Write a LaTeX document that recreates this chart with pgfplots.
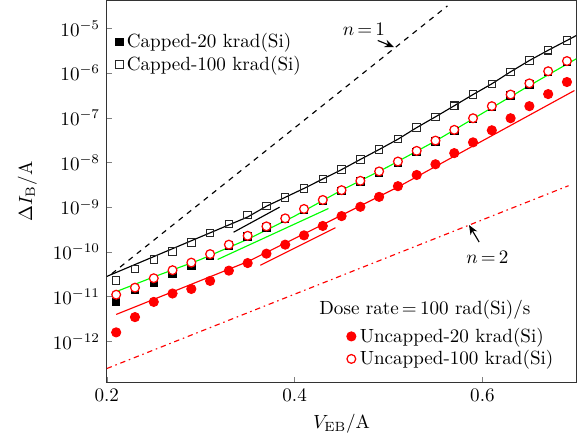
\documentclass[border=0pt]{standalone}
\usepackage{pgfplots}
\pgfplotsset{compat=1.18}
\usetikzlibrary{arrows.meta}

\pgfplotsset{
  capTwenty/.style={only marks, mark=square*, mark size=1.95pt, black, mark options={line width=0.5pt}},
  capHundred/.style={only marks, mark=square, mark size=1.95pt, black!85, mark options={line width=0.55pt}},
  uncTwenty/.style={only marks, mark=*, mark size=2.4pt, red, mark options={line width=0.5pt}},
  uncHundred/.style={only marks, mark=*, mark size=2.3pt, red, mark options={fill=white, line width=0.65pt}},
  smallleg/.style={
    legend cell align=left, draw=none, fill=none, inner sep=0pt,
    font=\normalsize, row sep=-1.2pt,
  },
  legend image code/.code={\draw[mark repeat=2,mark phase=2,#1] plot coordinates {(0cm,0cm) (0.12cm,0cm) (0.30cm,0cm)};},
}

\begin{document}
\begin{tikzpicture}
\begin{axis}[
  name=main,
  scale only axis, width=246pt, height=200pt,
  xmin=0.2, xmax=0.7,
  ymode=log, ymin=1.2e-13, ymax=4.17e-5,
  xtick={0.2,0.4,0.6},
  ytick={1e-12,1e-11,1e-10,1e-9,1e-8,1e-7,1e-6,1e-5},
  yminorticks=false, tick pos=left, tick align=inside,
  xlabel={$V_{\mathrm{EB}}/\mathrm{A}$},
  ylabel={$\Delta I_{\mathrm{B}}/\mathrm{A}$},
  ylabel style={yshift=1.5pt},
  axis line style={line width=0.7pt, black!80},
  major tick length=2.8pt,
  legend style={smallleg, at={(0.018,0.925)}, anchor=north west},
]
% fitted curves
\addplot[black, line width=0.6pt, forget plot] coordinates {
 (0.2,2.82e-11) (0.35,6.03e-10) (0.37,1.05e-9) (0.39,1.66e-9) (0.41,2.63e-9)
 (0.43,4.27e-9) (0.45,6.92e-9) (0.47,1.17e-8) (0.49,1.95e-8) (0.51,3.31e-8)
 (0.53,6.03e-8) (0.55,1.05e-7) (0.57,1.86e-7) (0.59,3.31e-7) (0.61,5.75e-7)
 (0.63,1.07e-6) (0.65,1.91e-6) (0.67,3.24e-6) (0.69,5.37e-6) (0.70,6.92e-6)};
\addplot[black, line width=0.6pt, forget plot] coordinates {(0.335,2.75e-10) (0.384,1.00e-9)};
\addplot[green, line width=0.6pt, forget plot] coordinates {
 (0.21,1.29e-11) (0.25,2.75e-11) (0.30,6.76e-11) (0.35,1.91e-10) (0.40,6.31e-10)
 (0.45,2.40e-9) (0.50,8.13e-9) (0.55,3.02e-8) (0.60,1.26e-7) (0.65,5.25e-7) (0.70,2.09e-6)};
\addplot[green, line width=0.6pt, forget plot] coordinates {(0.318,6.76e-11) (0.436,9.33e-10)};
\addplot[red, line width=0.6pt, forget plot] coordinates {
 (0.21,3.98e-12) (0.35,6.03e-11) (0.43,4.07e-10) (0.51,2.82e-9) (0.698,4.07e-7)};
\addplot[red, line width=0.6pt, forget plot] coordinates {(0.3635,5.01e-11) (0.4435,3.47e-10)};
% ideality reference lines
\addplot[black, line width=0.6pt, dash pattern=on 2.8pt off 2.8pt, forget plot] coordinates {(0.2053,3.24e-11) (0.5627,3.18e-5)};
\addplot[red, line width=0.6pt, dash pattern=on 2.8pt off 2pt on 0.8pt off 2pt, forget plot] coordinates {(0.2,2.45e-13) (0.6917,3.02e-9)};

% measured data
\addplot[capTwenty] coordinates {
 (0.21,7.59e-12) (0.23,1.45e-11) (0.25,2.04e-11) (0.27,3.24e-11) (0.29,5.01e-11)
 (0.31,8.13e-11) (0.33,1.38e-10) (0.35,2.19e-10) (0.37,3.55e-10) (0.39,5.37e-10)
 (0.41,8.71e-10) (0.43,1.38e-9) (0.45,2.29e-9) (0.47,3.72e-9) (0.49,6.03e-9)
 (0.51,1.00e-8) (0.53,1.74e-8) (0.55,2.95e-8) (0.57,5.13e-8) (0.59,9.33e-8)
 (0.61,1.74e-7) (0.63,3.16e-7) (0.65,5.62e-7) (0.67,1.05e-6) (0.69,1.78e-6)};
\addlegendentry{Capped-20 krad(Si)}
\addplot[capHundred] coordinates {
 (0.21,2.29e-11) (0.23,4.17e-11) (0.25,6.76e-11) (0.27,1.02e-10) (0.29,1.62e-10)
 (0.31,2.63e-10) (0.33,4.17e-10) (0.35,6.61e-10) (0.37,1.05e-9) (0.39,1.66e-9)
 (0.41,2.63e-9) (0.43,4.27e-9) (0.45,6.92e-9) (0.47,1.17e-8) (0.49,1.95e-8)
 (0.51,3.31e-8) (0.53,6.03e-8) (0.55,1.05e-7) (0.57,1.86e-7) (0.59,3.31e-7)
 (0.61,5.75e-7) (0.63,1.07e-6) (0.65,1.91e-6) (0.67,3.24e-6) (0.69,5.37e-6)};
\addlegendentry{Capped-100 krad(Si)}
\addplot[uncTwenty, forget plot] coordinates {
 (0.21,1.58e-12) (0.23,3.47e-12) (0.25,7.59e-12) (0.27,1.17e-11) (0.29,1.48e-11)
 (0.31,2.24e-11) (0.33,3.80e-11) (0.35,5.62e-11) (0.37,9.12e-11) (0.39,1.45e-10)
 (0.41,2.34e-10) (0.43,3.80e-10) (0.45,6.31e-10) (0.47,1.02e-9) (0.49,1.70e-9)
 (0.51,2.95e-9) (0.53,5.25e-9) (0.55,9.12e-9) (0.57,1.62e-8) (0.59,2.82e-8)
 (0.61,5.25e-8) (0.63,9.77e-8) (0.65,1.82e-7) (0.67,3.39e-7) (0.69,6.31e-7)};
\addplot[uncHundred, forget plot] coordinates {
 (0.21,1.10e-11) (0.23,1.58e-11) (0.25,2.57e-11) (0.27,3.89e-11) (0.29,5.75e-11)
 (0.31,8.91e-11) (0.33,1.45e-10) (0.35,2.29e-10) (0.37,3.72e-10) (0.39,5.62e-10)
 (0.41,9.12e-10) (0.43,1.45e-9) (0.45,2.40e-9) (0.47,3.89e-9) (0.49,6.31e-9)
 (0.51,1.05e-8) (0.53,1.82e-8) (0.55,3.09e-8) (0.57,5.37e-8) (0.59,9.77e-8)
 (0.61,1.82e-7) (0.63,3.31e-7) (0.65,5.89e-7) (0.67,1.10e-6) (0.69,1.86e-6)};

% annotations
\node at (axis cs:0.4738,9.55e-6) {$n\,{=}\,1$};
\draw[-{Stealth[length=5pt,width=4pt]}, line width=0.6pt] (axis cs:0.4885,5.37e-6) -- (axis cs:0.506,3.80e-6);
\node at (axis cs:0.6053,7.41e-11) {$n\,{=}\,2$};
\draw[-{Stealth[length=5pt,width=4pt]}, line width=0.6pt] (axis cs:0.5965,1.66e-10) -- (axis cs:0.5857,3.98e-10);
\node[anchor=west, inner sep=0pt] at (rel axis cs:0.452,0.19) {Dose rate\,$=$\,100 rad(Si)/s};
\end{axis}

\begin{axis}[
  at={(main.south west)}, anchor=south west,
  scale only axis, width=246pt, height=200pt,
  hide axis, xmin=0, xmax=1, ymin=0, ymax=1,
  legend style={smallleg, at={(0.96,0.028)}, anchor=south east},
]
\addlegendimage{uncTwenty}
\addlegendentry{Uncapped-20 krad(Si)}
\addlegendimage{uncHundred}
\addlegendentry{Uncapped-100 krad(Si)}
\end{axis}
% a little white margin at the left, as in the original
\path (main.outer west) ++(-6pt,0pt);
\end{tikzpicture}
\end{document}
